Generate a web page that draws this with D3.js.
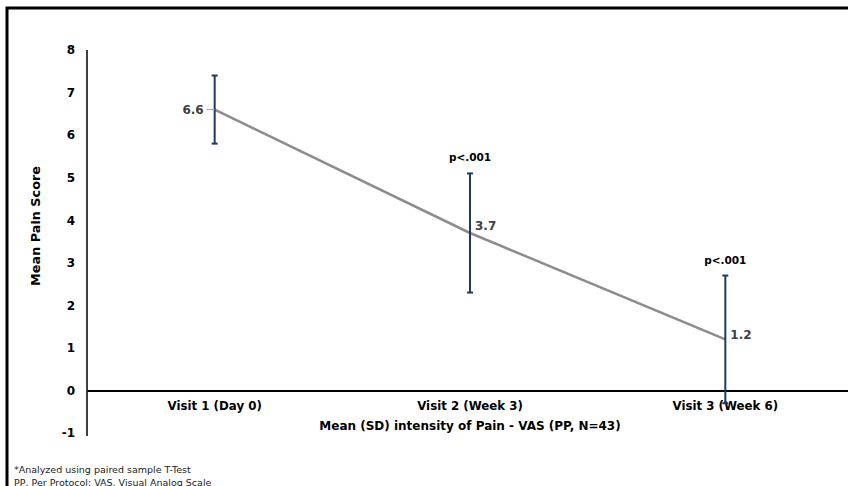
<!DOCTYPE html>
<html><head><meta charset="utf-8">
<script src="https://cdn.jsdelivr.net/npm/d3@7"></script>
<style>body{margin:0;background:#fff}svg{display:block}</style>
</head><body>
<svg id="c" width="848" height="486"></svg>
<script>
const categories = ["Visit 1 (Day 0)", "Visit 2 (Week 3)", "Visit 3 (Week 6)"];
const means = [6.6, 3.7, 1.2];
const sds = [0.8, 1.4, 1.5];
const pLabels = ["", "p<.001", "p<.001"];
const yTicks = [-1, 0, 1, 2, 3, 4, 5, 6, 7, 8];
const footnotes = ["*Analyzed using paired sample T-Test", "PP, Per Protocol; VAS, Visual Analog Scale"];

const svg = d3.select("#c");
const font = "'DejaVu Sans', Verdana, sans-serif";
svg.append("rect").attr("x", 7).attr("y", 8).attr("width", 900).attr("height", 600)
  .attr("fill", "none").attr("stroke", "#000").attr("stroke-width", 3);

const x = d3.scaleBand().domain(categories).range([87, 853]);
const y = d3.scaleLinear().domain([-1, 8]).range([433, 50]);

// y axis
const ya = svg.append("g").attr("transform", "translate(87,0)")
  .call(d3.axisLeft(y).tickValues(yTicks).tickSize(0).tickPadding(12).tickFormat(d => String(d)));
ya.select(".domain").attr("stroke", "#000").attr("stroke-width", 1.5).attr("d", `M0,${y(8)}V${y(-1)+3}`);
ya.selectAll("text").attr("font-family", font).attr("font-weight", "bold").attr("font-size", 12).attr("fill", "#000");

// zero baseline with category labels
const xa = svg.append("g").attr("transform", `translate(0,${y(0)})`)
  .call(d3.axisBottom(x).tickSize(0).tickPadding(11));
xa.select(".domain").attr("stroke", "#000").attr("stroke-width", 2);
xa.selectAll("text").attr("font-family", font).attr("font-weight", "bold").attr("font-size", 11.8).attr("fill", "#000");

// axis titles
svg.append("text").attr("transform", `translate(40,226) rotate(-90)`)
  .attr("text-anchor", "middle").attr("font-family", font).attr("font-weight", "bold")
  .attr("font-size", 12.8).text("Mean Pain Score");
svg.append("text").attr("x", x(categories[1]) + x.bandwidth()/2).attr("y", 430)
  .attr("text-anchor", "middle").attr("font-family", font).attr("font-weight", "bold")
  .attr("font-size", 12).text("Mean (SD) intensity of Pain - VAS (PP, N=43)");

const cx = i => x(categories[i]) + x.bandwidth()/2;

// line
svg.append("path").datum(means)
  .attr("d", d3.line().x((d, i) => cx(i)).y(d => y(d)))
  .attr("fill", "none").attr("stroke", "#8c8c8c").attr("stroke-width", 2.5);

// error bars
const eb = svg.append("g").selectAll("g").data(means).join("g");
eb.append("line").attr("x1", (d, i) => cx(i)).attr("x2", (d, i) => cx(i))
  .attr("y1", (d, i) => y(d + sds[i])).attr("y2", (d, i) => y(d - sds[i]))
  .attr("stroke", "#1f3864").attr("stroke-width", 2);
[1, -1].forEach(s => {
  eb.append("line").attr("x1", (d, i) => cx(i) - 3).attr("x2", (d, i) => cx(i) + 3)
    .attr("y1", (d, i) => y(d + s * sds[i])).attr("y2", (d, i) => y(d + s * sds[i]))
    .attr("stroke", "#1f3864").attr("stroke-width", 2);
});

// value labels
svg.append("line").attr("x1", cx(0) - 8).attr("x2", cx(0)).attr("y1", y(means[0])).attr("y2", y(means[0]))
  .attr("stroke", "#a0a0a0").attr("stroke-width", 1);
svg.append("g").selectAll("text").data(means).join("text")
  .attr("x", (d, i) => i === 0 ? cx(i) - 11 : cx(i) + 5)
  .attr("y", (d, i) => i === 0 ? y(d) + 4 : (i === 1 ? y(d) - 3 : y(d)))
  .attr("text-anchor", (d, i) => i === 0 ? "end" : "start")
  .attr("font-family", font).attr("font-weight", "bold").attr("font-size", 12).attr("fill", "#404040")
  .text(d => d.toFixed(1));

// p labels
svg.append("g").selectAll("text").data(pLabels).join("text")
  .attr("x", (d, i) => cx(i)).attr("y", (d, i) => y(means[i] + sds[i]) - 12)
  .attr("text-anchor", "middle").attr("font-family", font).attr("font-weight", "bold")
  .attr("font-size", 10.5).attr("fill", "#000").text(d => d);

// footnotes
svg.append("g").selectAll("text").data(footnotes).join("text")
  .attr("x", 14).attr("y", (d, i) => 473 + i * 12.5)
  .attr("font-family", font).attr("font-size", 9.5).attr("fill", "#222").text(d => d);
</script>
</body></html>
